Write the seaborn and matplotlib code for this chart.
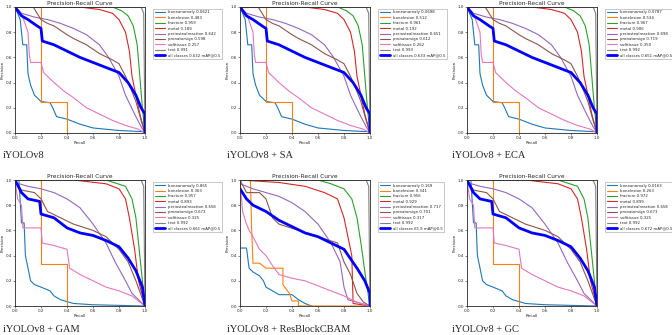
import matplotlib
matplotlib.use("Agg")
import matplotlib.pyplot as plt
import seaborn as sns

# Panel captions and legend values (AP per class)
captions = ["iYOLOv8", "iYOLOv8 + SA", "iYOLOv8 + ECA",
            "iYOLOv8 + GAM", "iYOLOv8 + ResBlockCBAM", "iYOLOv8 + GC"]
classes = ["boneanomaly", "bonelesion", "fracture", "metal",
           "periostealreaction", "pronatorsign", "softtissue", "text"]
ap_values = [
    ["0.0621", "0.483", "0.959", "0.189", "0.642", "0.598", "0.257", "0.991"],
    ["0.0698", "0.512", "0.961", "0.192", "0.651", "0.612", "0.262", "0.993"],
    ["0.0787", "0.534", "0.967", "0.906", "0.698", "0.719", "0.350", "0.992"],
    ["0.865", "0.363", "0.957", "0.893", "0.658", "0.673", "0.325", "0.992"],
    ["0.169", "0.341", "0.956", "0.929", "0.717", "0.701", "0.317", "0.992"],
    ["0.0163", "0.263", "0.972", "0.899", "0.658", "0.673", "0.325", "0.992"],
]
all_labels = ["0.632 mAP@0.5", "0.633 mAP@0.5", "0.651 mAP@0.5",
              "0.661 mAP@0.5", "65.9 mAP@0.5", "0.672 mAP@0.5"]

# Curves (recall, precision) estimated from the panels
# set A: iYOLOv8, +SA, +ECA
curves_a = {
    "boneanomaly": ([0, 0.04, 0.06, 0.09, 0.1, 0.12, 0.15, 0.2, 0.27, 0.29, 0.32, 0.4, 0.5, 0.6, 0.8, 1.0],
                    [1.0, 0.9, 0.7, 0.7, 0.47, 0.38, 0.3, 0.25, 0.24, 0.2, 0.13, 0.11, 0.07, 0.04, 0.02, 0.01]),
    "bonelesion": ([0, 0.2, 0.2, 0.4, 0.4, 1.0], [1.0, 1.0, 0.25, 0.25, 0.0, 0.0]),
    "fracture": ([0, 0.75, 0.82, 0.87, 0.91, 0.94, 0.96, 0.98, 1.0],
                 [1.0, 1.0, 0.97, 0.93, 0.85, 0.7, 0.45, 0.2, 0.0]),
    "metal": ([0, 0.5, 0.65, 0.75, 0.8, 0.85, 0.88, 0.9, 0.93, 0.96, 1.0],
              [1.0, 1.0, 0.98, 0.95, 0.9, 0.8, 0.65, 0.45, 0.3, 0.15, 0.0]),
    "periostealreaction": ([0, 0.05, 0.15, 0.25, 0.35, 0.45, 0.55, 0.65, 0.72, 0.8, 0.85, 0.92, 0.97, 1.0],
                           [1.0, 0.95, 0.92, 0.9, 0.87, 0.83, 0.78, 0.7, 0.6, 0.45, 0.3, 0.15, 0.05, 0.0]),
    "pronatorsign": ([0, 0.14, 0.2, 0.25, 0.3, 0.4, 0.45, 0.55, 0.65, 0.75, 0.8, 0.85, 0.88, 0.93, 0.97, 1.0],
                     [1.0, 1.0, 0.9, 0.87, 0.85, 0.78, 0.75, 0.7, 0.63, 0.58, 0.55, 0.45, 0.38, 0.25, 0.1, 0.0]),
    "softtissue": ([0, 0.05, 0.1, 0.11, 0.12, 0.2, 0.22, 0.3, 0.38, 0.45, 0.55, 0.65, 0.75, 0.85, 0.95, 1.0],
                   [1.0, 0.95, 0.8, 0.62, 0.56, 0.56, 0.48, 0.4, 0.33, 0.28, 0.2, 0.15, 0.1, 0.06, 0.03, 0.0]),
    "text": ([0, 0.97, 0.99, 1.0], [1.0, 1.0, 0.95, 0.0]),
    "all": ([0, 0.05, 0.1, 0.17, 0.2, 0.21, 0.3, 0.4, 0.5, 0.6, 0.7, 0.8, 0.87, 0.93, 0.97, 1.0, 1.0],
            [1.0, 0.93, 0.9, 0.85, 0.83, 0.73, 0.7, 0.65, 0.6, 0.56, 0.52, 0.48, 0.4, 0.3, 0.2, 0.15, 0.0]),
}
# set B: +GAM, +GC
curves_b = {
    "boneanomaly": ([0, 0.03, 0.05, 0.07, 0.08, 0.1, 0.12, 0.15, 0.2, 0.27, 0.3, 0.35, 0.45, 0.6, 1.0],
                    [1.0, 1.0, 0.66, 0.66, 0.4, 0.3, 0.2, 0.17, 0.15, 0.12, 0.08, 0.05, 0.02, 0.01, 0.0]),
    "bonelesion": ([0, 0.2, 0.2, 0.4, 0.4, 1.0], [1.0, 1.0, 0.33, 0.33, 0.0, 0.0]),
    "fracture": ([0, 0.7, 0.85, 0.9, 0.93, 0.96, 1.0], [1.0, 1.0, 0.95, 0.85, 0.7, 0.4, 0.0]),
    "metal": ([0, 0.45, 0.7, 0.8, 0.85, 0.88, 0.92, 0.95, 1.0], [1.0, 1.0, 0.97, 0.93, 0.85, 0.7, 0.45, 0.2, 0.0]),
    "periostealreaction": ([0, 0.1, 0.2, 0.3, 0.4, 0.5, 0.6, 0.7, 0.77, 0.85, 0.9, 1.0],
                           [0.98, 0.95, 0.93, 0.9, 0.85, 0.78, 0.65, 0.5, 0.35, 0.2, 0.1, 0.0]),
    "pronatorsign": ([0, 0.05, 0.15, 0.2, 0.25, 0.35, 0.45, 0.6, 0.7, 0.8, 0.87, 0.93, 1.0],
                     [1.0, 0.92, 0.9, 0.85, 0.75, 0.7, 0.65, 0.6, 0.55, 0.45, 0.35, 0.2, 0.0]),
    "softtissue": ([0, 0.02, 0.05, 0.06, 0.2, 0.21, 0.3, 0.4, 0.42, 0.5, 0.6, 0.7, 0.8, 0.9, 1.0],
                   [1.0, 0.85, 0.8, 0.62, 0.62, 0.5, 0.48, 0.45, 0.3, 0.25, 0.2, 0.15, 0.12, 0.08, 0.0]),
    "text": ([0, 0.97, 0.99, 1.0], [1.0, 1.0, 0.95, 0.0]),
    "all": ([0, 0.05, 0.1, 0.19, 0.2, 0.3, 0.4, 0.5, 0.6, 0.7, 0.8, 0.87, 0.93, 0.98, 1.0],
            [1.0, 0.9, 0.85, 0.83, 0.73, 0.7, 0.62, 0.58, 0.56, 0.52, 0.47, 0.38, 0.28, 0.15, 0.0]),
}
# set C: +ResBlockCBAM
curves_c = {
    "boneanomaly": ([0, 0.05, 0.07, 0.1, 0.15, 0.18, 0.2, 0.25, 0.3, 0.4, 0.45, 0.5, 0.55],
                    [0.46, 0.46, 0.3, 0.27, 0.24, 0.2, 0.15, 0.12, 0.09, 0.09, 0.05, 0.02, 0.0]),
    "bonelesion": ([0, 0.08, 0.09, 0.1, 0.15, 0.2, 0.33, 0.33, 0.38, 0.4, 0.45, 0.45, 1.0],
                   [1.0, 1.0, 0.6, 0.34, 0.34, 0.3, 0.3, 0.17, 0.1, 0.04, 0.04, 0.0, 0.0]),
    "fracture": ([0, 0.6, 0.7, 0.8, 0.86, 0.9, 0.93, 0.97, 1.0], [1.0, 1.0, 0.97, 0.93, 0.85, 0.7, 0.5, 0.2, 0.0]),
    "metal": ([0, 0.3, 0.5, 0.65, 0.75, 0.8, 0.83, 0.85, 0.86, 0.87, 1.0],
              [1.0, 0.98, 0.95, 0.9, 0.85, 0.7, 0.55, 0.45, 0.4, 0.02, 0.0]),
    "periostealreaction": ([0, 0.1, 0.2, 0.3, 0.4, 0.5, 0.6, 0.7, 0.77, 0.8, 0.83, 1.0],
                           [0.97, 0.93, 0.9, 0.87, 0.82, 0.75, 0.65, 0.5, 0.35, 0.15, 0.05, 0.0]),
    "pronatorsign": ([0, 0.05, 0.15, 0.2, 0.25, 0.3, 0.45, 0.6, 0.75, 0.8, 0.85, 0.9, 0.95, 1.0],
                     [1.0, 0.9, 0.9, 0.85, 0.7, 0.65, 0.6, 0.55, 0.5, 0.35, 0.25, 0.1, 0.03, 0.0]),
    "softtissue": ([0, 0.02, 0.05, 0.07, 0.1, 0.15, 0.2, 0.25, 0.3, 0.4, 0.5, 0.6, 0.7, 0.8, 0.9, 1.0],
                   [1.0, 0.75, 0.65, 0.6, 0.55, 0.45, 0.4, 0.32, 0.25, 0.22, 0.2, 0.16, 0.12, 0.08, 0.03, 0.0]),
    "text": ([0, 0.97, 0.99, 1.0], [1.0, 1.0, 0.95, 0.0]),
    "all": ([0, 0.05, 0.1, 0.2, 0.3, 0.4, 0.5, 0.6, 0.7, 0.8, 0.86, 0.9, 0.96, 1.0, 1.0],
            [0.93, 0.85, 0.8, 0.75, 0.68, 0.63, 0.58, 0.55, 0.5, 0.45, 0.36, 0.3, 0.2, 0.1, 0.0]),
}
panel_curves = [curves_a, curves_a, curves_a, curves_b, curves_c, curves_b]

class_colors = ["#1f77b4", "#ff7f0e", "#2ca02c", "#d62728",
                "#9467bd", "#8c564b", "#e377c2", "#7f7f7f"]

sns.set_theme(style="ticks")
plt.rcParams["font.family"] = ["DejaVu Sans"]

fig = plt.figure(figsize=(6.72, 3.35), dpi=100)
lefts = [15, 240, 467]
tops = [7, 180]
w_px, h_px = 130, 126

for i in range(6):
    row, col = divmod(i, 3)
    ax = fig.add_axes([lefts[col] / 672, 1 - (tops[row] + h_px) / 335,
                       w_px / 672, h_px / 335])
    curves = panel_curves[i]
    for k, name in enumerate(classes):
        r, p = curves[name]
        sns.lineplot(x=r, y=p, ax=ax, color=class_colors[k], lw=0.8,
                     estimator=None, sort=False,
                     label=f"{name} {ap_values[i][k]}")
    r, p = curves["all"]
    sns.lineplot(x=r, y=p, ax=ax, color="blue", lw=2,
                 estimator=None, sort=False,
                 label=f"all classes {all_labels[i]}")

    ax.set_xlim(0, 1)
    ax.set_ylim(0, 1)
    ticks = [0, 0.2, 0.4, 0.6, 0.8, 1.0]
    ax.set_xticks(ticks)
    ax.set_yticks(ticks)
    ax.set_xticklabels([f"{t:.1f}" for t in ticks])
    ax.set_yticklabels([f"{t:.1f}" for t in ticks])
    ax.tick_params(labelsize=3, length=1.2, width=0.4, pad=0.8)
    for s in ax.spines.values():
        s.set_linewidth(0.6)
    ax.set_xlabel("Recall", fontsize=3, labelpad=1)
    ax.set_ylabel("Precision", fontsize=3, labelpad=0.5)
    ax.set_title("Precision-Recall Curve", fontsize=4.2, pad=1.5)
    leg = ax.legend(loc="upper left", bbox_to_anchor=(1.05, 1.0), fontsize=2.8,
                    frameon=True, fancybox=False, borderpad=0.4,
                    labelspacing=0.35, handlelength=2.5, handletextpad=0.8)
    leg.get_frame().set_linewidth(0.4)
    leg.get_frame().set_edgecolor("#888888")

    cap_x = [3, 227, 452][col] / 672
    cap_y = 1 - [156, 329][row] / 335
    fig.text(cap_x, cap_y, captions[i], fontsize=7.5, family="Liberation Serif",
             va="center", ha="left")

fig.savefig("out.png", dpi=100)
